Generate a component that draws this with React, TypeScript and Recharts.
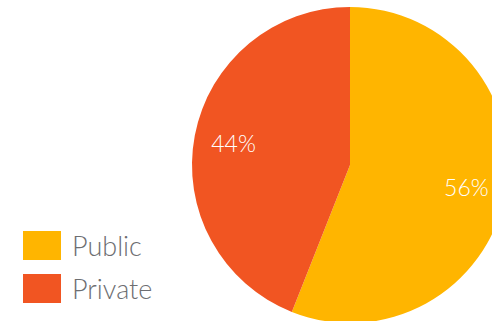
import { PieChart, Pie, Cell, Legend } from "recharts";

const categories = ["Public", "Private"];
const values = [56, 44];
const colors = ["#FFB500", "#F15522"];

const data = categories.map((name, i) => ({ name, value: values[i] }));

const RADIAN = Math.PI / 180;

function renderLabel(props: any) {
  const { cx, cy, midAngle, outerRadius, value } = props;
  const r = outerRadius * 0.75;
  const x = cx + r * Math.cos(-midAngle * RADIAN);
  const y = cy + r * Math.sin(-midAngle * RADIAN);
  return (
    <text
      x={x}
      y={y}
      fill="#ffffff"
      textAnchor="middle"
      dominantBaseline="central"
      fontFamily="Lato, sans-serif"
      fontWeight={300}
      fontSize={23}
    >
      {`${value}%`}
    </text>
  );
}

function LegendContent() {
  return (
    <div style={{ fontFamily: "Lato, sans-serif", fontWeight: 300 }}>
      {categories.map((name, i) => (
        <div
          key={name}
          style={{ display: "flex", alignItems: "center", height: 29, marginBottom: 14 }}
        >
          <div style={{ width: 38, height: 29, background: colors[i] }} />
          <span style={{ marginLeft: 11, fontSize: 27, color: "#6D6E71" }}>{name}</span>
        </div>
      ))}
    </div>
  );
}

export default function App() {
  return (
    <div style={{ position: "fixed", left: 0, top: 0, width: 492, height: 321, background: "#fff" }}>
      <PieChart width={492} height={321} margin={{ top: 0, right: 0, bottom: 0, left: 0 }}>
        <Pie
          data={data}
          dataKey="value"
          nameKey="name"
          cx={350}
          cy={165}
          outerRadius={158}
          startAngle={90}
          endAngle={-270}
          stroke="none"
          labelLine={false}
          label={renderLabel}
          isAnimationActive={false}
        >
          {data.map((d, i) => (
            <Cell key={d.name} fill={colors[i]} />
          ))}
        </Pie>
        <Legend
          content={<LegendContent />}
          wrapperStyle={{ position: "absolute", left: 23, top: 231, width: 180 }}
        />
      </PieChart>
    </div>
  );
}
